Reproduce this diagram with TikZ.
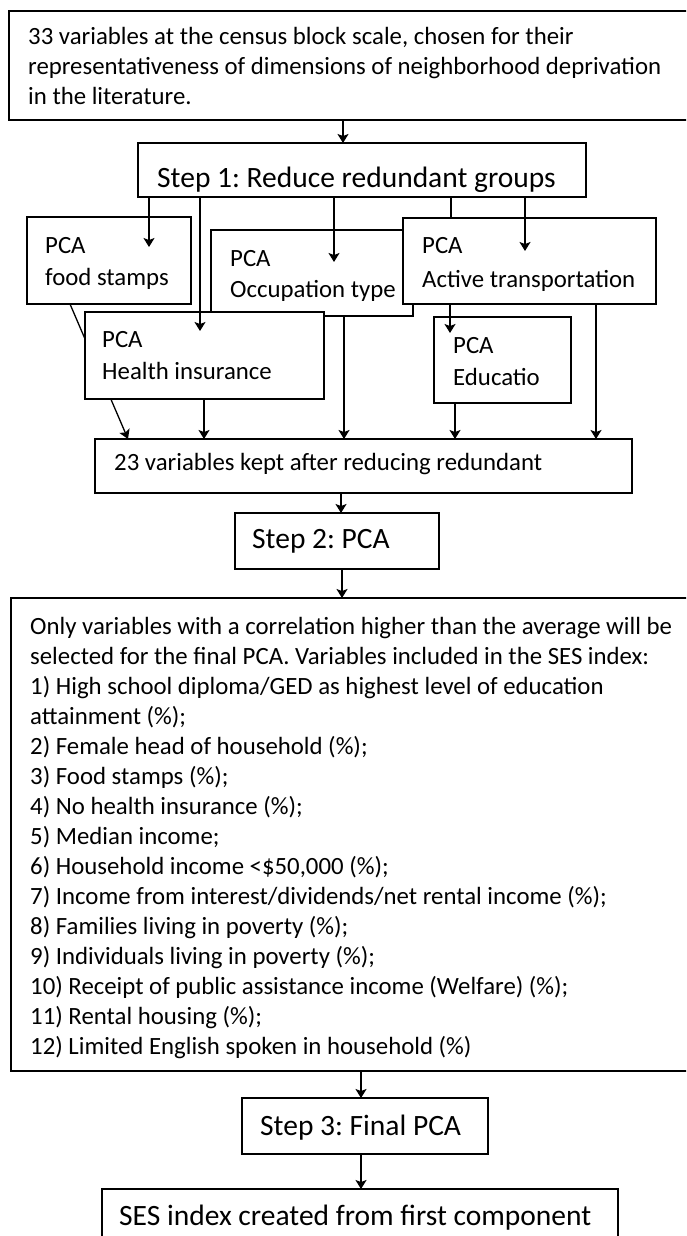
\documentclass[tikz,border=0pt]{standalone}
\usepackage{fontspec}
\setmainfont{Carlito}
\usetikzlibrary{arrows.meta,calc}
\begin{document}
\frenchspacing
\begin{tikzpicture}[x=1pt,y=-1pt,
  box/.style={draw, line width=1.4pt, fill=white, inner sep=0pt, outer sep=0pt, anchor=north west},
  txt/.style={inner sep=0pt, anchor=base west, font=\fontsize{24.8}{30}\selectfont},
  bigtxt/.style={inner sep=0pt, anchor=base west, font=\fontsize{29.5}{36}\selectfont},
  ln/.style={line width=1.3pt},
  arr/.style={ln, -{Stealth[length=9pt,width=11pt,inset=2pt]}}]
\clip (0,0) rectangle (686,1236);
\fill[white] (0,0) rectangle (686,1236);
% main column boxes
\node[box, minimum width=683pt, minimum height=109pt] (top) at (9,11) {};
\node[box, minimum width=448pt, minimum height=54pt] (s1) at (138,143) {};
\node[box, minimum width=537pt, minimum height=54pt] (v23) at (95,439) {};
\node[box, minimum width=204pt, minimum height=56pt] (s2) at (235,513) {};
\node[box, minimum width=681pt, minimum height=473pt] (big) at (11,598) {};
\node[box, minimum width=246pt, minimum height=56pt] (s3) at (242,1098) {};
\node[box, minimum width=516pt, minimum height=70pt] (ses) at (102,1189) {};
% PCA boxes
\node[box, minimum width=164pt, minimum height=87pt] (fs) at (27,217) {};
\node[box, minimum width=202pt, minimum height=86pt] (occ) at (211,230) {};
\node[box, minimum width=253pt, minimum height=86pt] (at) at (403,218) {};
\draw[arr] (70,0 |- fs.south) -- (128,0 |- v23.north);
\node[box, minimum width=239pt, minimum height=87pt] (hi) at (85,312) {};
\node[box, minimum width=137pt, minimum height=86pt] (ed) at (434,317) {};
% texts
\node[txt] (t1) at (28,45) {33 variables at the census block scale, chosen for their};
\node[txt] (t2) at (28,75) {representativeness of dimensions of neighborhood deprivation};
\node[txt] (t3) at (28,105) {in the literature.};
\node[bigtxt] (s1t) at (157,187) {Step 1: Reduce redundant groups};
\node[txt] (fs1) at (45,253) {PCA};
\node[txt] (fs2) at (45,285) {food stamps};
\node[txt] (oc1) at (230,266) {PCA};
\node[txt] (oc2) at (230,297) {Occupation type};
\node[txt] (at1) at (422,253) {PCA};
\node[txt] (at2) at (422,287) {Active transportation};
\node[txt] (hi1) at (102,347) {PCA};
\node[txt] (hi2) at (102,379) {Health insurance};
\node[txt] (ed1) at (453,353) {PCA};
\node[txt] (ed2) at (453,385) {Educatio};
\node[txt] (v23t) at (114,470) {23 variables kept after reducing redundant};
\node[bigtxt] (s2t) at (252,548) {Step 2: PCA};
\foreach \s [count=\i from 0] in {
  {Only variables with a correlation higher than the average will be},
  {selected for the final PCA. Variables included in the SES index:},
  {1) High school diploma/GED as highest level of education},
  {attainment (\%);},
  {2) Female head of household (\%);},
  {3) Food stamps (\%);},
  {4) No health insurance (\%);},
  {5) Median income;},
  {6) Household income <\$50,000 (\%);},
  {7) Income from interest/dividends/net rental income (\%);},
  {8) Families living in poverty (\%);},
  {9) Individuals living in poverty (\%);},
  {10) Receipt of public assistance income (Welfare) (\%);},
  {11) Rental housing (\%);},
  {12) Limited English spoken in household (\%)}}
  \node[txt] (bl\i) at (30,634+30*\i) {\s};
\node[bigtxt] (s3t) at (260,1135) {Step 3: Final PCA};
\node[bigtxt] (sest) at (119,1225) {SES index created from first component};
% connectors
\draw[arr] (343,0 |- top.south) -- (343,0 |- s1.north);
\draw[arr] (149,0 |- s1.south) -- ($(149,0 |- fs.north)+(0,30)$);
\draw[arr] (200,0 |- s1.south) -- ($(200,0 |- hi.north)+(0,19)$);
\draw[arr] (334,0 |- s1.south) -- ($(334,0 |- occ.north)+(0,32)$);
\draw[ln] (451,0 |- s1.south) -- (451,0 |- at.north);
\draw[arr] (525,0 |- s1.south) -- ($(525,0 |- at.north)+(0,33)$);
\draw[arr] (204,0 |- hi.south) -- (204,0 |- v23.north);
\draw[arr] (344,0 |- occ.south) -- (344,0 |- v23.north);
\draw[arr] (450,0 |- at.south) -- ($(450,0 |- ed.north)+(0,16)$);
\draw[arr] (455,0 |- ed.south) -- (455,0 |- v23.north);
\draw[arr] (596,0 |- at.south) -- (596,0 |- v23.north);
\draw[arr] (341,0 |- v23.south) -- (341,0 |- s2.north);
\draw[arr] (342,0 |- s2.south) -- (342,0 |- big.north);
\draw[arr] (361,0 |- big.south) -- (361,0 |- s3.north);
\draw[arr] (361,0 |- s3.south) -- (361,0 |- ses.north);
\end{tikzpicture}
\end{document}
